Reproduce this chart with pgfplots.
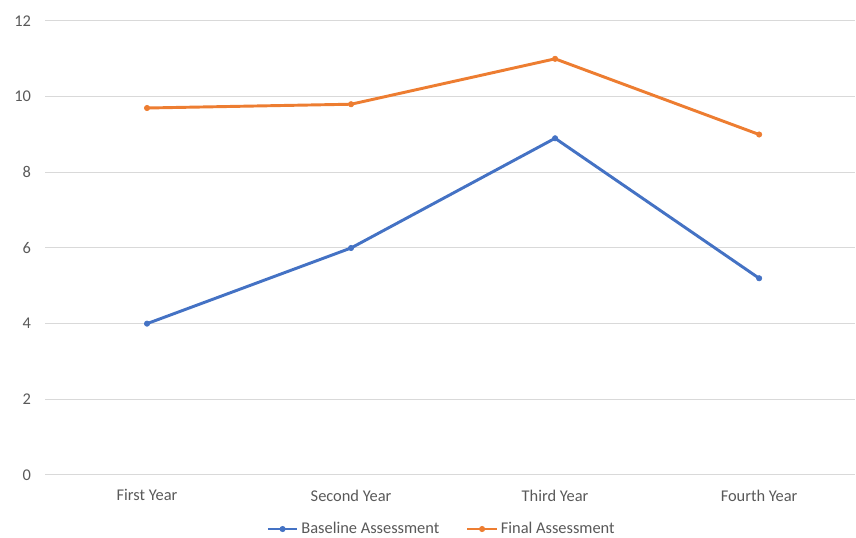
\documentclass[border=0pt]{standalone}
\usepackage{pgfplots}
\pgfplotsset{compat=1.18}
\usepackage{fontspec}
\setmainfont{Carlito}
\definecolor{cblue}{HTML}{4472C4}
\definecolor{corange}{HTML}{ED7D31}
\definecolor{ctext}{HTML}{595959}
\definecolor{cgrid}{HTML}{D9D9D9}
\begin{document}
\begin{tikzpicture}
\begin{axis}[
  name=ax,
  scale only axis,
  width=607.5pt, height=340.5pt,
  xmin=-0.5, xmax=3.47,
  ymin=0, ymax=12,
  ytick={0,2,...,12},
  xtick={0,1,2,3},
  xticklabels={First Year,Second Year,Third Year,Fourth Year},
  axis line style={draw=none},
  major tick length=0pt,
  ymajorgrids, grid style={cgrid, line width=0.75pt},
  tick label style={font=\fontsize{12.3}{14}\selectfont, text=ctext},
  /pgf/number format/assume math mode=true,
  yticklabel style={xshift=-7pt},
  xticklabel style={yshift=-7.5pt},
  legend columns=2,
  legend style={draw=none, font=\fontsize{12.3}{14}\selectfont, text=ctext,
    at={(0.49,-0.119)}, anchor=center, /tikz/every even column/.append style={column sep=18pt}},
  legend image code/.code={\draw[#1] (0pt,0pt) -- (22pt,0pt); \draw[#1, mark repeat=1] plot coordinates {(11pt,0pt)};},
  clip=false,
]
\addplot[cblue, line width=2.2pt, mark=*, mark size=2pt, mark options={line width=0.5pt}] coordinates {(0,4) (1,6) (2,8.9) (3,5.2)};
\addlegendentry{Baseline Assessment}
\addplot[corange, line width=2.2pt, mark=*, mark size=2pt, mark options={line width=0.5pt}] coordinates {(0,9.7) (1,9.8) (2,11) (3,9)};
\addlegendentry{Final Assessment}
\end{axis}
\pgfresetboundingbox
\path ([shift={(-33.75pt,-47.25pt)}]ax.south west) rectangle ([shift={(608.25pt,356.25pt)}]ax.south west);
\end{tikzpicture}
\end{document}
